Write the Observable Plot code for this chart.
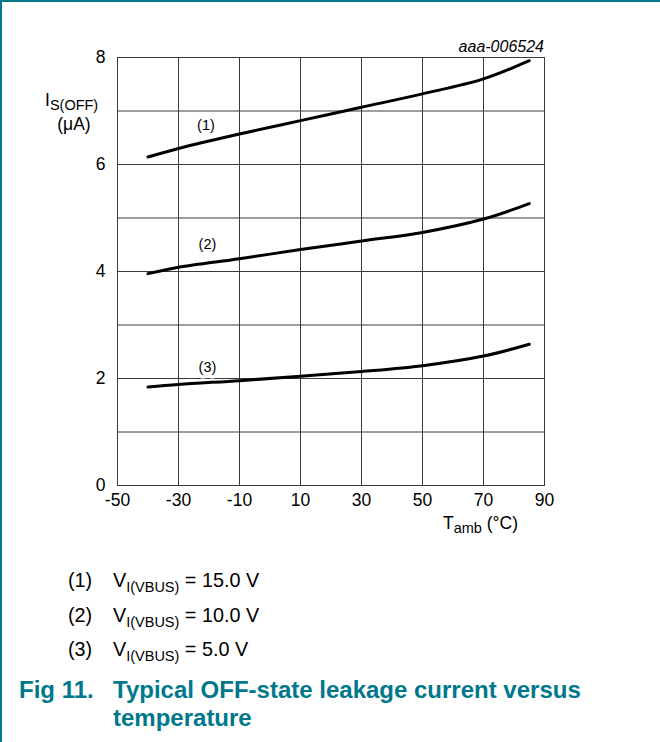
<!DOCTYPE html>
<html>
<head>
<meta charset="utf-8">
<script src="https://cdn.jsdelivr.net/npm/d3@7"></script>
<script src="https://cdn.jsdelivr.net/npm/@observablehq/plot@0.6"></script>
<style>
  html, body { margin: 0; padding: 0; background: #fff; }
  #wrap { position: relative; width: 660px; height: 742px; box-sizing: border-box;
          border-top: 2px solid #00788c; border-left: 2px solid #00788c; overflow: hidden;
          font-family: "Liberation Sans", Arial, sans-serif; }
  #chart { position: absolute; left: -2px; top: -2px; }
  .leg { position: absolute; font-size: 19.8px; color: #000; white-space: nowrap; line-height: 1.117; }
  .leg .n { position: absolute; left: 0; }
  .leg .v { position: absolute; left: 45px; }
  sub { font-size: 14.5px; vertical-align: -5px; line-height: 0; }
  .title { position: absolute; font-weight: bold; font-size: 24px; color: #00788c; line-height: 28px; white-space: nowrap; }
</style>
</head>
<body>
<div id="wrap">
  <div id="chart"></div>
  <div class="leg" style="left:66px; top:567px;"><span class="n">(1)</span><span class="v">V<sub>I(VBUS)</sub> = 15.0 V</span></div>
  <div class="leg" style="left:66px; top:601.5px;"><span class="n">(2)</span><span class="v">V<sub>I(VBUS)</sub> = 10.0 V</span></div>
  <div class="leg" style="left:66px; top:636px;"><span class="n">(3)</span><span class="v">V<sub>I(VBUS)</sub> = 5.0 V</span></div>
  <div class="title" style="left:17px; top:674px;">Fig 11.</div>
  <div class="title" style="left:111px; top:674px;">Typical OFF-state leakage current versus<br>temperature</div>
</div>
<script>
const temps = [-40, -30, -10, 10, 30, 50, 70, 85];
const curve1 = [6.14, 6.30, 6.57, 6.82, 7.07, 7.32, 7.60, 7.94];
const curve2 = [3.96, 4.08, 4.24, 4.41, 4.57, 4.73, 4.98, 5.27];
const curve3 = [1.84, 1.89, 1.96, 2.04, 2.13, 2.24, 2.42, 2.64];
const xTicks = [-50, -30, -10, 10, 30, 50, 70, 90];
const yGrid = [0, 1, 2, 3, 4, 5, 6, 7, 8];
const yTicks = [0, 2, 4, 6, 8];
const labelNames = ["(1)", "(2)", "(3)"];
const labelT = [-21, -20.5, -20.5];
const labelI = [6.73, 4.5, 2.2];

const series = [curve1, curve2, curve3];
const rows = series.flatMap((s, k) => temps.map((t, i) => ({t, v: s[i], k})));
const labels = labelNames.map((name, i) => ({name, t: labelT[i], v: labelI[i]}));

const plot = Plot.plot({
  width: 660,
  height: 545,
  marginLeft: 117,
  marginRight: 116,
  marginTop: 57,
  marginBottom: 60,
  style: {fontFamily: "'Liberation Sans', Arial, sans-serif", fontSize: "17px", color: "#000", background: "transparent", overflow: "visible"},
  x: {domain: [-50, 90]},
  y: {domain: [0, 8]},
  marks: [
    Plot.gridX(xTicks, {stroke: "#3a3a3a", strokeOpacity: 1, strokeWidth: 1}),
    Plot.gridY(yGrid, {stroke: "#3a3a3a", strokeOpacity: 1, strokeWidth: 1}),
    Plot.frame({stroke: "#3a3a3a", strokeWidth: 1}),
    Plot.axisX({ticks: xTicks, tickSize: 0, tickPadding: 8, label: null, fontSize: 17.5, tickFormat: d => String(d)}),
    Plot.axisY({ticks: yTicks, tickSize: 0, tickPadding: 12, label: null, fontSize: 17.5, tickFormat: d => String(d)}),
    Plot.line(rows, {x: "t", y: "v", z: "k", stroke: "#000", strokeWidth: 3, curve: "catmull-rom"}),
    Plot.text(labels, {x: "t", y: "v", text: "name", fontSize: 14.5, fill: "#000", stroke: "white", strokeWidth: 7, paintOrder: "stroke"})
  ]
});
document.getElementById("chart").appendChild(plot);

const svg = d3.select(plot);
const font = "'Liberation Sans', Arial, sans-serif";
// code label
svg.append("text").attr("x", 544).attr("y", 52).attr("text-anchor", "end")
  .attr("font-family", font).attr("font-size", 16).attr("font-style", "italic").text("aaa-006524");
// y label
const yl = svg.append("text").attr("x", 45).attr("y", 106).attr("text-anchor", "start").attr("font-family", font).attr("font-size", 17.5);
yl.append("tspan").text("I");
yl.append("tspan").attr("font-size", 14.5).attr("dy", 4).text("S(OFF)");
svg.append("text").attr("x", 74).attr("y", 130).attr("text-anchor", "middle")
  .attr("font-family", font).attr("font-size", 17.5).text("(μA)");
// x label
const xl = svg.append("text").attr("x", 443).attr("y", 529).attr("text-anchor", "start").attr("font-family", font).attr("font-size", 17.5);
xl.append("tspan").text("T");
xl.append("tspan").attr("font-size", 14.5).attr("dy", 4).text("amb");
xl.append("tspan").attr("dy", -4).text(" (°C)");
</script>
</body>
</html>
